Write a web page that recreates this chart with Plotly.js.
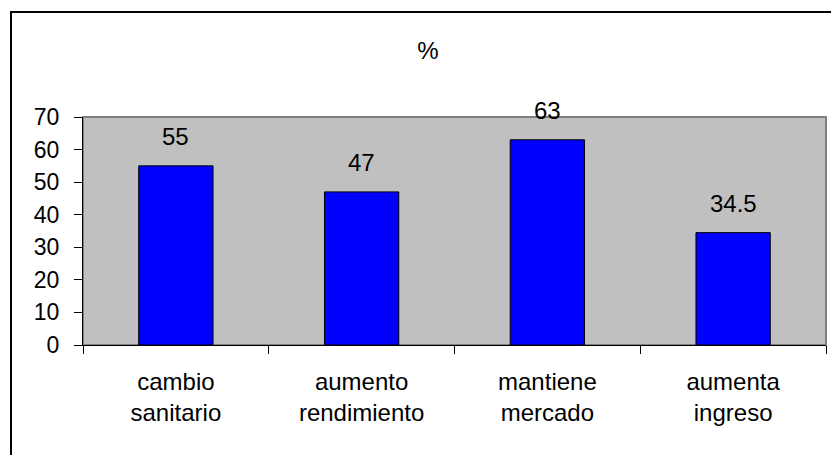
<!DOCTYPE html>
<html>
<head>
<meta charset="utf-8">
<script src="https://cdn.plot.ly/plotly-3.0.1.min.js"></script>
<style>
html, body { margin: 0; padding: 0; overflow: hidden; background: #fff; }
#chart { width: 831px; height: 455px; }
</style>
</head>
<body>
<div id="chart"></div>
<script>
const categories = ["cambio<br>sanitario", "aumento<br>rendimiento", "mantiene<br>mercado", "aumenta<br>ingreso"];
const values = [55, 47, 63, 34.5];
const valueLabels = ["55", "47", "63", "34.5"];
const yTicks = [0, 10, 20, 30, 40, 50, 60, 70];

const font = { family: "Liberation Sans, Arial, sans-serif", size: 24, color: "#000" };
const tickFont = { family: "Liberation Sans, Arial, sans-serif", size: 23, color: "#000" };

const trace = {
  type: "bar",
  x: categories,
  y: values,
  marker: { color: "#0000ff", line: { color: "#000", width: 1 } },
  hoverinfo: "skip"
};

const annotations = categories.map((c, i) => ({
  x: c, y: values[i], xref: "x", yref: "y",
  text: valueLabels[i], showarrow: false,
  yanchor: "middle", yshift: 29, font: font
}));

const layout = {
  width: 831, height: 455,
  margin: { l: 83, r: 5, t: 117, b: 110, pad: 0 },
  paper_bgcolor: "#ffffff",
  plot_bgcolor: "#c0c0c0",
  font: font,
  showlegend: false,
  bargap: 0.6,
  title: { text: "%", x: 428 / 831, xanchor: "center", y: 1 - 51 / 455, yanchor: "middle", font: font },
  xaxis: {
    type: "category",
    tickson: "boundaries",
    ticks: "outside", ticklen: 8, tickcolor: "#000", tickwidth: 1,
    showline: true, linecolor: "#000", linewidth: 1,
    showgrid: false, zeroline: false,
    tickfont: font,
    ticklabelstandoff: 15,
    fixedrange: true
  },
  yaxis: {
    range: [0, 70],
    tickvals: yTicks,
    ticks: "outside", ticklen: 8, tickcolor: "#000", tickwidth: 1,
    showline: true, linecolor: "#000", linewidth: 1,
    showgrid: false, zeroline: false,
    tickfont: tickFont,
    ticklabelstandoff: 10,
    fixedrange: true
  },
  annotations: annotations,
  shapes: [
    { type: "rect", xref: "paper", yref: "paper", x0: 0, x1: 1, y0: 0, y1: 1,
      line: { color: "#808080", width: 2 }, layer: "below" },
    { type: "rect", xref: "paper", yref: "paper",
      x0: (11 - 83) / 743, x1: 1.2, y0: -1, y1: 1 + (117 - 12) / 228,
      line: { color: "#000", width: 2 }, layer: "above" }
  ]
};

Plotly.newPlot("chart", [trace], layout, { staticPlot: true, displayModeBar: false });
</script>
</body>
</html>
